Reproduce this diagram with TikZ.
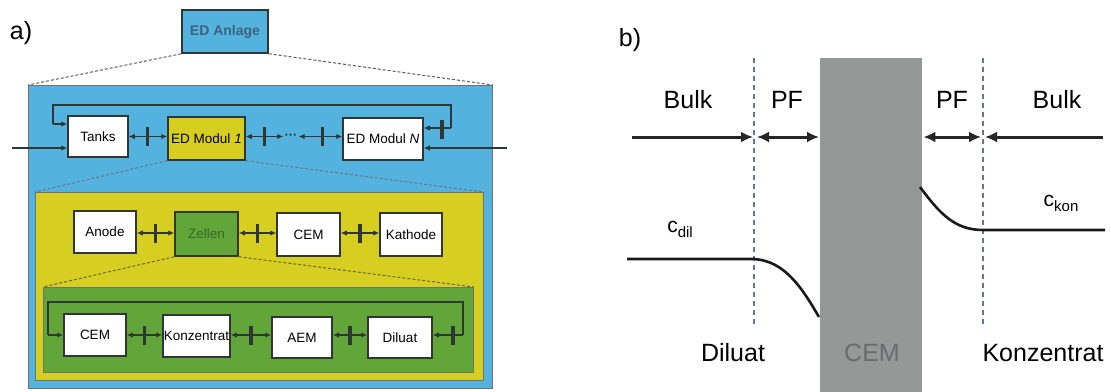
\documentclass[tikz,border=0pt]{standalone}
\usepackage{fontspec}
\setmainfont{Liberation Sans}
\usetikzlibrary{arrows.meta,calc}
\definecolor{edblue}{RGB}{84,178,222}
\definecolor{edyellow}{RGB}{214,206,32}
\definecolor{edgreen}{RGB}{98,166,58}
\definecolor{lineg}{RGB}{48,54,54}
\definecolor{cemgray}{RGB}{150,152,152}
\definecolor{cemtext}{RGB}{105,108,108}
\definecolor{dashblue}{RGB}{105,115,140}
\definecolor{anltext}{RGB}{62,100,125}
\definecolor{zeltext}{RGB}{55,105,40}
\tikzset{
  panel/.style={anchor=north west, inner sep=0, draw=lineg!70, line width=0.8},
  box/.style={draw=lineg, line width=1.5, fill=white, inner sep=0,
    font=\fontsize{13.5}{15}\selectfont, text=black},
  flow/.style={draw=lineg, line width=1.7},
  shead/.tip={Latex[length=6pt,width=5.5pt]},
  bhead/.tip={Latex[length=12pt,width=11pt]},
  conn/.style={flow, {shead}-{shead}},
  into/.style={flow, -{shead}},
  bar/.style={fill=lineg, minimum width=3.4, minimum height=19, inner sep=0, draw=none},
  zoomdash/.style={dashed, line width=1, dash pattern=on 3pt off 2pt},
  big/.style={font=\fontsize{25}{28}\selectfont},
  barrow/.style={draw=black!85, line width=3},
  sep/.style={draw=dashblue, line width=1.2, dash pattern=on 5pt off 4pt},
  curve/.style={draw=black!90, line width=2.6},
}
\begin{document}
\begin{tikzpicture}[x=1pt,y=-1pt]
\useasboundingbox (0,0) rectangle (1111,391);
\fill[white] (0,0) rectangle (1111,391);

% ---------------- panel a ----------------
\node[big] (la) at (21,33) {a)};
\node[box, fill=edblue, text=anltext, minimum width=86, minimum height=43,
  font=\fontsize{14}{16}\selectfont\bfseries] (anl) at (225,31.5) {ED Anlage};

\node[panel, fill=edblue, minimum width=464, minimum height=303] (blue) at (28,85) {};
\draw[zoomdash, draw=lineg!80] (anl.south west) -- (blue.north west);
\draw[zoomdash, draw=lineg!80] (anl.south east) -- (blue.north east);

% row 1
\node[box, minimum width=60, minimum height=41] (tanks) at (98,136.5) {Tanks};
\node[box, fill=edyellow, minimum width=77, minimum height=43] (ed1) at (206.5,138.5) {ED Modul \textit{1}};
\node[font=\fontsize{13}{15}\selectfont\bfseries, text=lineg, inner sep=1] (dots) at (291,136.5) {···};
\node[box, minimum width=80, minimum height=42] (edN) at (383,139) {ED Modul \textit{N}};

\draw[conn] (tanks.east) -- (ed1.west |- tanks.east) node[pos=0.48, bar] (b1) {};
\draw[conn] (ed1.east |- dots.west) -- (dots.west) node[midway, bar] (b2) {};
\draw[conn] (dots.east) -- (edN.west |- dots.east) node[pos=0.55, bar] (b3) {};

\coordinate (inL) at (12,148);
\coordinate (inR) at (507,148);
\draw[into] (inL) -- (tanks.west |- inL);
\draw[into] (inR) -- (edN.east |- inR);
\coordinate (r1) at (451,128);
\coordinate (r2) at (451,105);
\coordinate (r3) at (53,105);
\coordinate (r4) at (53,124);
\draw[flow] (r1) -- (r2) -- (r3) -- (r4);
\draw[into] (r4) -- (tanks.west |- r4);
\draw[into] (r1) -- (edN.east |- r1);
\node[bar] (b4) at (442,129) {};

% yellow level
\node[panel, fill=edyellow, minimum width=448, minimum height=188] (yel) at (35,192) {};
\draw[zoomdash, draw=dashblue] (ed1.south west) -- (yel.north west);
\draw[zoomdash, draw=dashblue] (ed1.south east) -- (yel.north east);

\node[box, minimum width=62, minimum height=42] (anode) at (105,232) {Anode};
\node[box, fill=edgreen, text=zeltext, minimum width=63, minimum height=44] (zel) at (206.5,234) {Zellen};
\node[box, minimum width=63, minimum height=43] (cem1) at (308.5,234.5) {CEM};
\node[box, minimum width=62, minimum height=43] (kath) at (411,234.5) {Kathode};

\draw[conn] (anode.east |- 0,233) -- (zel.west |- 0,233) node[midway, bar] (b5) {};
\draw[conn] (zel.east |- 0,233) -- (cem1.west |- 0,233) node[midway, bar] (b6) {};
\draw[conn] (cem1.east |- 0,233) -- (kath.west |- 0,233) node[midway, bar] (b7) {};

% green level
\node[panel, fill=edgreen, minimum width=430, minimum height=85] (grn) at (43,287) {};
\draw[zoomdash, draw=olive!70!black] (zel.south west) -- (grn.north west);
\draw[zoomdash, draw=olive!70!black] (zel.south east) -- (grn.north east);

\node[box, minimum width=62, minimum height=42] (cem2) at (95,335) {CEM};
\node[box, minimum width=67, minimum height=42] (konz) at (196.5,336) {Konzentrat};
\node[box, minimum width=60, minimum height=41] (aem) at (302,337.5) {AEM};
\node[box, minimum width=64, minimum height=41] (dil) at (400,337.5) {Diluat};

\draw[conn] (cem2.east |- 0,335) -- (konz.west |- 0,335) node[pos=0.5, bar] (b8) {};
\draw[conn] (konz.east |- 0,335) -- (aem.west |- 0,335) node[pos=0.5, bar] (b9) {};
\draw[conn] (aem.east |- 0,335) -- (dil.west |- 0,335) node[pos=0.5, bar] (b10) {};

\coordinate (g1) at (463,335);
\coordinate (g2) at (463,302);
\coordinate (g3) at (48,302);
\coordinate (g4) at (48,335);
\draw[flow] (g1) -- (g2) -- (g3) -- (g4);
\draw[into] (g4) -- (cem2.west |- g4);
\draw[into] (g1) -- (dil.east |- g1);
\node[bar] (b11) at (453,335) {};

% ---------------- panel b ----------------
\node[big] (lb) at (630,40) {b)};
\node[anchor=north west, fill=cemgray, minimum width=102, minimum height=334, inner sep=0] (cemb) at (820,58) {};
\node[big, text=cemtext] (cemlab) at (872,353) {CEM};

\coordinate (dL1) at (754,58);
\coordinate (dL2) at (754,327);
\coordinate (dR1) at (983,58);
\coordinate (dR2) at (983,327);
\draw[sep] (dL1) -- (dL2);
\draw[sep] (dR1) -- (dR2);

\node[big] (bulkL) at (688,100) {Bulk};
\node[big] (pfL) at (787,100) {PF};
\node[big] (pfR) at (952,100) {PF};
\node[big] (bulkR) at (1057,100) {Bulk};

\coordinate (aL) at (632,137);
\coordinate (aR) at (1103,137);
\draw[barrow, -{bhead}] (aL) -- ($(dL1 |- aL)+(-1,0)$);
\draw[barrow, {bhead}-{bhead}] ($(dL1 |- aL)+(3,0)$) -- ($(cemb.west |- aL)+(-1,0)$);
\draw[barrow, {bhead}-{bhead}] ($(cemb.east |- aL)+(1,0)$) -- ($(dR1 |- aL)+(-2,0)$);
\draw[barrow, -{bhead}] (aR) -- ($(dR1 |- aR)+(2,0)$);

\coordinate (cd0) at (627,259);
\coordinate (cd1) at (754,259);
\coordinate (cd2) at (819,317);
\draw[curve] (cd0) -- (cd1) .. controls (785,261) and (802,288) .. (cd2);
\coordinate (ck0) at (920,187);
\coordinate (ck1) at (983,230);
\coordinate (ck2) at (1105,230);
\draw[curve] (ck0) .. controls (940,214) and (955,230) .. (ck1) -- (ck2);

\node (cdil) at (680,229) {\fontsize{21}{24}\selectfont c\raisebox{-0.45ex}{\fontsize{15}{16}\selectfont dil}};
\node (ckon) at (1061,203) {\fontsize{21}{24}\selectfont c\raisebox{-0.45ex}{\fontsize{15}{16}\selectfont kon}};

\node[big] (diluat) at (733,353) {Diluat};
\node[big] (konzb) at (1043,353) {Konzentrat};
\end{tikzpicture}
\end{document}
